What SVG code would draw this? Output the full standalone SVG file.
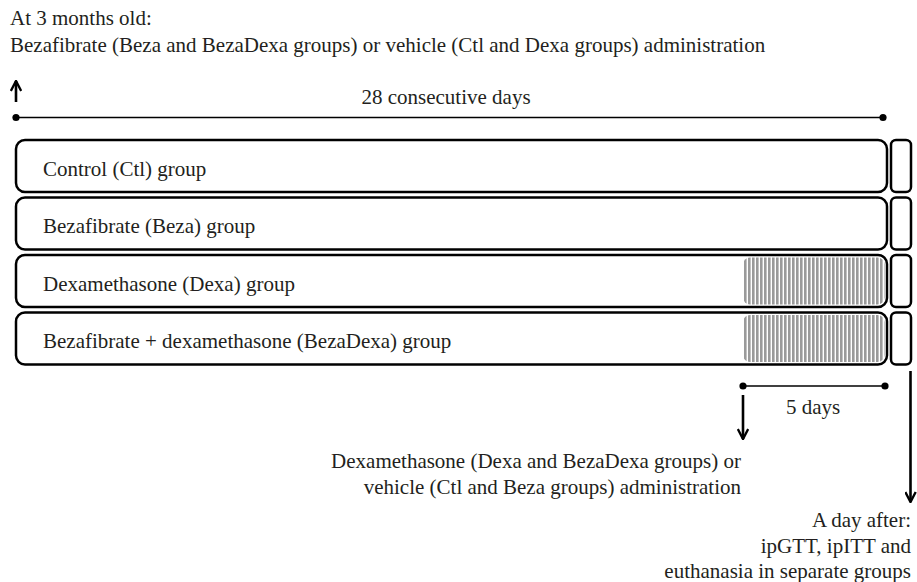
<svg xmlns="http://www.w3.org/2000/svg" width="917" height="582" viewBox="0 0 917 582">
<style>
text{font-family:"Liberation Serif","Times New Roman",serif;font-size:21px;fill:#231f20}
.box{fill:#fff;stroke:#000;stroke-width:2.5}
.line{stroke:#000;stroke-width:1.6;fill:none}
.arrow{stroke:#000;stroke-width:2.6;fill:none}
.end{text-anchor:end}
.mid{text-anchor:middle}
</style>
<defs>
<pattern id="hatch" patternUnits="userSpaceOnUse" width="4" height="10">
<rect x="0" y="0" width="2.6" height="10" fill="#9a9a9a"/>
</pattern>
<marker id="ah" viewBox="0 0 12 12" refX="11" refY="6" markerWidth="12" markerHeight="12" markerUnits="userSpaceOnUse" orient="auto">
<path d="M1,0.8 L11,6 L1,11.2" fill="none" stroke="#000" stroke-width="2.4"/>
</marker>
</defs>

<g id="top-label">
<text x="10" y="25">At 3 months old:</text>
<text x="10" y="52">Bezafibrate (Beza and BezaDexa groups) or vehicle (Ctl and Dexa groups) administration</text>
</g>

<g id="ctl">
<rect class="box" x="16" y="140" width="871" height="52" rx="9"/>
<rect class="box" x="891" y="140" width="20" height="52" rx="5"/>
<text x="43" y="175.5">Control (Ctl) group</text>
</g>
<g id="beza">
<rect class="box" x="16" y="197.5" width="871" height="52" rx="9"/>
<rect class="box" x="891" y="197.5" width="20" height="52" rx="5"/>
<text x="43" y="233">Bezafibrate (Beza) group</text>
</g>
<g id="dexa">
<rect class="box" x="16" y="255" width="871" height="52" rx="9"/>
<rect x="743" y="257.5" width="141.5" height="47" rx="7" fill="url(#hatch)"/>
<rect class="box" x="891" y="255" width="20" height="52" rx="5"/>
<text x="43" y="290.5">Dexamethasone (Dexa) group</text>
</g>
<g id="bezadexa">
<rect class="box" x="16" y="312.5" width="871" height="52" rx="9"/>
<rect x="743" y="315" width="141.5" height="47" rx="7" fill="url(#hatch)"/>
<rect class="box" x="891" y="312.5" width="20" height="52" rx="5"/>
<text x="43" y="348">Bezafibrate + dexamethasone (BezaDexa) group</text>
</g>

<g id="connectors">
<line class="arrow" x1="16" y1="102" x2="16" y2="81" marker-end="url(#ah)"/>
<line class="line" x1="16" y1="117.5" x2="883" y2="117.5"/>
<circle cx="16" cy="117.5" r="3.6"/>
<circle cx="883" cy="117.5" r="3.6"/>
<line class="line" x1="743" y1="386" x2="885" y2="386"/>
<circle cx="743" cy="386" r="3.6"/>
<circle cx="885" cy="386" r="3.6"/>
<line class="arrow" x1="743" y1="395" x2="743" y2="439" marker-end="url(#ah)"/>
<line class="arrow" x1="910.5" y1="371" x2="910.5" y2="502" marker-end="url(#ah)"/>
</g>

<g id="labels">
<text class="mid" x="446" y="104">28 consecutive days</text>
<text class="mid" x="813" y="414">5 days</text>
<text class="end" x="741" y="468">Dexamethasone (Dexa and BezaDexa groups) or</text>
<text class="end" x="741" y="494">vehicle (Ctl and Beza groups) administration</text>
<text class="end" x="911" y="527">A day after:</text>
<text class="end" x="911" y="553">ipGTT, ipITT and</text>
<text class="end" x="911" y="578">euthanasia in separate groups</text>
</g>
</svg>
